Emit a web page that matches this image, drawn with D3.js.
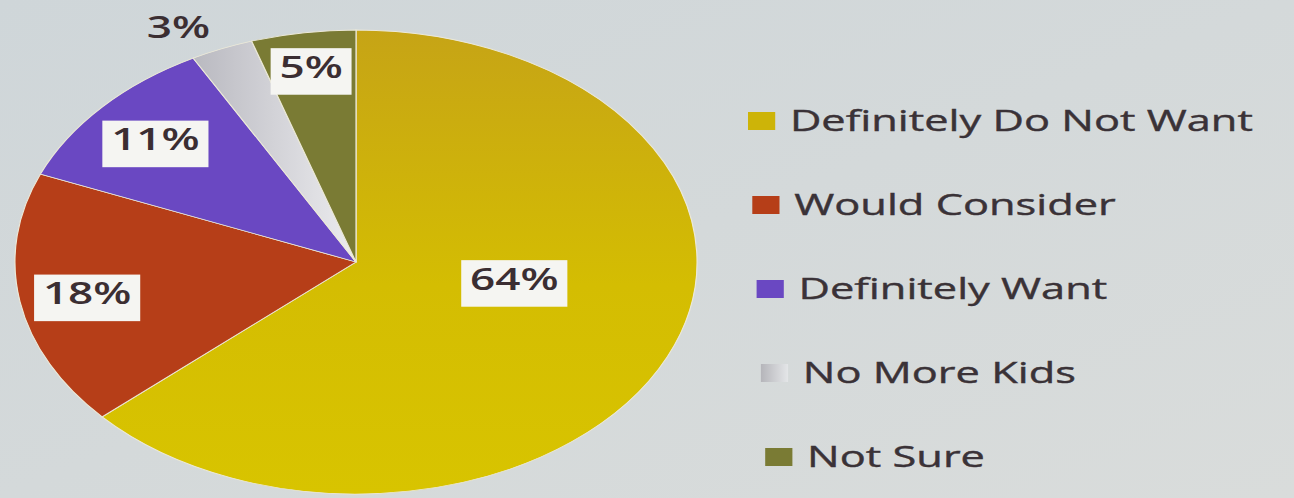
<!DOCTYPE html>
<html>
<head>
<meta charset="utf-8">
<script src="https://cdn.jsdelivr.net/npm/d3@7"></script>
<style>
  body { margin: 0; background: #d4dadc; }
  svg { display: block; }
  text { font-family: "Open Sans", "Noto Sans", sans-serif; }
</style>
</head>
<body>
<svg id="chart" width="1294" height="498"></svg>
<script>
// data
var categories = ["Definitely Do Not Want", "Would Consider", "Definitely Want", "No More Kids", "Not Sure"];
var values = [64, 18, 11, 3, 5];
var valueLabels = ["64%", "18%", "11%", "3%", "5%"];

var colors = ["url(#gYellow)", "#b63e18", "#6a48c2", "url(#gGray)", "#7a7b34"];
var legendColors = ["#cdb408", "#b63e18", "#6a48c2", "url(#gGrayL)", "#7a7b34"];

// the photo is stretched sideways, so everything gets the same squash
var sx = 1.47;
var R = 232;

var svg = d3.select("#chart"),
  width = +svg.attr("width"),
  height = +svg.attr("height");

var defs = svg.append("defs");
var bg = defs.append("linearGradient").attr("id", "gBg").attr("x1", 0).attr("y1", 0).attr("x2", 1).attr("y2", 1);
bg.append("stop").attr("offset", "0%").attr("stop-color", "#cfd6d9");
bg.append("stop").attr("offset", "100%").attr("stop-color", "#d9dcdb");

var gy = defs.append("linearGradient").attr("id", "gYellow").attr("x1", 0).attr("y1", 0).attr("x2", 0).attr("y2", 1);
gy.append("stop").attr("offset", "0%").attr("stop-color", "#c6a416");
gy.append("stop").attr("offset", "55%").attr("stop-color", "#d4bd02");
gy.append("stop").attr("offset", "100%").attr("stop-color", "#d8c400");

var gg = defs.append("linearGradient").attr("id", "gGray").attr("x1", 0).attr("y1", 0).attr("x2", 1).attr("y2", 0);
gg.append("stop").attr("offset", "0%").attr("stop-color", "#b9b9c0");
gg.append("stop").attr("offset", "100%").attr("stop-color", "#ececef");

var gl = defs.append("linearGradient").attr("id", "gGrayL").attr("x1", 0).attr("y1", 0).attr("x2", 1).attr("y2", 0);
gl.append("stop").attr("offset", "0%").attr("stop-color", "#b5b5ba");
gl.append("stop").attr("offset", "100%").attr("stop-color", "#e4e6e8");

svg.append("rect")
  .attr("width", width)
  .attr("height", height)
  .attr("fill", "url(#gBg)");

////////// pie //////////

var pie = d3.pie().sort(null).value(function(d) { return d; });
var arcs = pie(values);

var arc = d3.arc().innerRadius(0).outerRadius(R);

var g = svg.append("g")
  .attr("transform", "translate(356,262) scale(" + sx + ",1)");

g.selectAll("path")
  .data(arcs)
  .enter().append("path")
  .attr("d", arc)
  .attr("fill", function(d, i) { return colors[i]; })
  .style("stroke", "#ece9d8")
  .style("stroke-width", 0.8);

// where excel put each label: fraction of radius, nudge of the angle (deg)
var labelSpot = [[0.47, -15], [0.8, 0], [0.79, 0], [1.14, -4], [0.85, 0]];
var boxed = [true, true, true, false, true];

var lab = g.selectAll(".lab")
  .data(arcs)
  .enter().append("g")
  .attr("class", "lab")
  .attr("transform", function(d, i) {
    var a = (d.startAngle + d.endAngle) / 2 + labelSpot[i][1] * Math.PI / 180;
    var r = labelSpot[i][0] * R;
    return "translate(" + (r * Math.sin(a)) + "," + (-r * Math.cos(a)) + ")";
  });

lab.append("text")
  .attr("text-anchor", "middle")
  .attr("dy", "0.36em")
  .attr("font-size", 30)
  .attr("font-weight", 600)
  .attr("fill", "#3b2e32")
  .text(function(d, i) { return valueLabels[i]; });

lab.each(function(d, i) {
  if (!boxed[i]) return;
  var t = d3.select(this).select("text");
  var b = t.node().getBBox();
  d3.select(this).insert("rect", "text")
    .attr("x", b.x - 6)
    .attr("y", b.y + 2)
    .attr("width", b.width + 12)
    .attr("height", b.height + 6)
    .attr("fill", "#f5f5f2");
});

////////// legend //////////

var y = d3.scalePoint()
  .domain(categories)
  .range([121, 457]);

var legend = svg.selectAll(".legend")
  .data(categories)
  .enter().append("g")
  .attr("class", "legend")
  .attr("transform", function(d, i) {
    return "translate(" + (748 + i * 4.3) + "," + y(d) + ") scale(" + sx + ",1)";
  });

legend.append("rect")
  .attr("x", 0)
  .attr("y", -9)
  .attr("width", 18.5)
  .attr("height", 18)
  .attr("fill", function(d, i) { return legendColors[i]; });

legend.append("text")
  .attr("x", 28.5)
  .attr("y", 9.5)
  .attr("font-size", 29.5)
  .attr("font-weight", 400)
  .attr("fill", "#3a3237")
  .style("stroke", "#3a3237")
  .style("stroke-width", 0.4)
  .text(function(d) { return d; });
</script>
</body>
</html>
